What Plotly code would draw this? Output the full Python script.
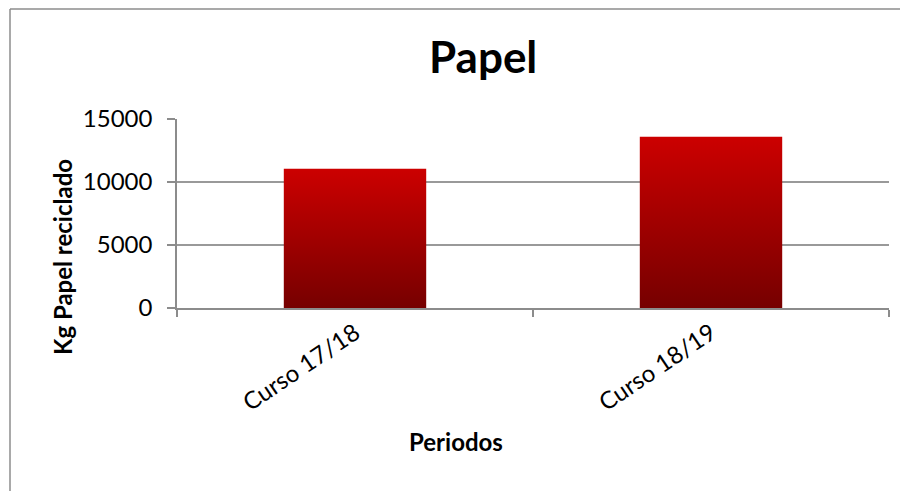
import plotly.graph_objects as go

categories = ["Curso 17/18", "Curso 18/19"]
values = [11050, 13600]
y_ticks = [0, 5000, 10000, 15000]

chart_title = "Papel"
y_title = "Kg Papel reciclado"
x_title = "Periodos"

# page body has an 8px margin; work in window pixel coordinates
OFF = 8
WIN_W, WIN_H = 908, 491
W, H = WIN_W - OFF, WIN_H - OFF
plot_left, plot_right, plot_top, plot_bottom = 177, 889, 119, 308
L = plot_left - OFF
R = WIN_W - plot_right
T = plot_top - OFF
B = WIN_H - plot_bottom

def px_x(x):
    return (x - plot_left) / (plot_right - plot_left)

def px_y(y):
    return (plot_bottom - y) / (plot_bottom - plot_top)

bar_half = 0.2
fig = go.Figure()
for i, (cat, v) in enumerate(zip(categories, values)):
    fig.add_trace(go.Scatter(
        x=[i - bar_half, i + bar_half, i + bar_half, i - bar_half, i - bar_half],
        y=[0, 0, v, v, 0],
        mode="lines",
        fill="toself",
        line=dict(width=0, color="rgba(0,0,0,0)"),
        fillgradient=dict(type="vertical",
                          colorscale=[[0, "#760000"], [1, "#CC0000"]]),
        name=cat,
        hoverinfo="skip",
        showlegend=False,
    ))

font_family = "Lato, Carlito, 'Liberation Sans', sans-serif"

fig.update_layout(
    width=W, height=H,
    margin=dict(l=L, r=R, t=T, b=B),
    paper_bgcolor="white",
    plot_bgcolor="white",
    font=dict(family=font_family, color="black", size=24),
    showlegend=False,
    xaxis=dict(
        range=[-0.5, len(categories) - 0.5],
        tickmode="array",
        tickvals=list(range(len(categories))),
        ticktext=categories,
        tickangle=-34,
        ticks="",
        showgrid=False,
        zeroline=False,
        showline=True,
        linecolor="#8c8c8c",
        linewidth=1.5,
        tickfont=dict(size=24, family=font_family),
        minor=dict(
            tickmode="array",
            tickvals=[k - 0.5 for k in range(len(categories) + 1)],
            ticks="outside",
            ticklen=7,
            tickwidth=1.5,
            tickcolor="#8c8c8c",
            showgrid=False,
        ),
        fixedrange=True,
    ),
    yaxis=dict(
        range=[0, 15000],
        tickmode="array",
        tickvals=y_ticks,
        ticktext=[str(t) for t in y_ticks],
        ticks="outside",
        ticklen=8,
        tickwidth=1.5,
        tickcolor="#8c8c8c",
        ticklabelstandoff=10,
        showgrid=True,
        gridcolor="#999999",
        gridwidth=1.5,
        zeroline=False,
        showline=True,
        linecolor="#8c8c8c",
        linewidth=1.5,
        tickfont=dict(size=24, family=font_family),
        fixedrange=True,
    ),
    annotations=[
        dict(text="<b>" + chart_title + "</b>", x=px_x(483), y=px_y(56),
             xref="paper", yref="paper", xanchor="center", yanchor="middle",
             showarrow=False, font=dict(size=44, family=font_family)),
        dict(text="<b>" + y_title + "</b>", x=px_x(62), y=px_y(257),
             xref="paper", yref="paper", xanchor="center", yanchor="middle",
             textangle=-90, showarrow=False,
             font=dict(size=24, family=font_family)),
        dict(text="<b>" + x_title + "</b>", x=px_x(456), y=px_y(441),
             xref="paper", yref="paper", xanchor="center", yanchor="middle",
             showarrow=False, font=dict(size=24, family=font_family)),
    ],
    shapes=[
        dict(type="line", xref="paper", yref="paper",
             x0=px_x(10), x1=px_x(930), y0=px_y(9), y1=px_y(9),
             line=dict(color="#8c8c8c", width=1.5)),
        dict(type="line", xref="paper", yref="paper",
             x0=px_x(10), x1=px_x(10), y0=px_y(9), y1=px_y(520),
             line=dict(color="#8c8c8c", width=1.5)),
    ],
)

fig.write_html("out.html")
